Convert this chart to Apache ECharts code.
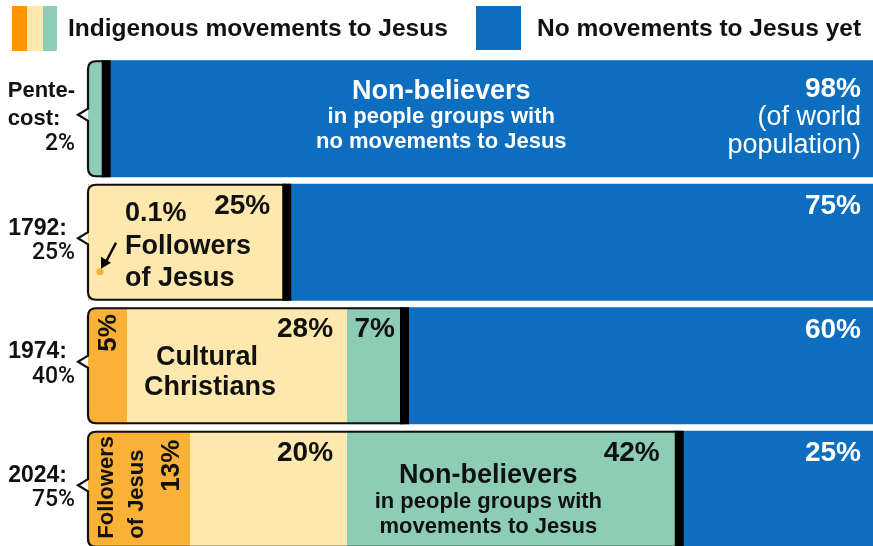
<!DOCTYPE html>
<html>
<head>
<meta charset="utf-8">
<script src="https://cdn.jsdelivr.net/npm/echarts@6/dist/echarts.min.js"></script>
<style>
html,body{margin:0;padding:0;background:#fff;}
#chart{width:873px;height:546px;}
</style>
</head>
<body>
<div id="chart"></div>
<script>
// ---- data ----
const categories = ['Pentecost', '1792', '1974', '2024'];
const followers = [0, 0.1, 5, 13];
const cultural = [0, 24.9, 28, 20];
const withMovements = [2, 0, 7, 42];
const noMovements = [98, 75, 60, 25];
const indigenousTotalLabels = ['2%', '25%', '40%', '75%'];
const yearLabels = [['Pente-', 'cost:'], ['1792:'], ['1974:'], ['2024:']];
const followersLabels = ['', '0.1%', '5%', '13%'];
const culturalLabels = ['', '25%', '28%', '20%'];
const withMovementsLabels = ['', '', '7%', '42%'];
const noMovementsLabels = ['98%', '75%', '60%', '25%'];
const legendNames = ['Indigenous movements to Jesus', 'No movements to Jesus yet'];

// ---- style ----
const FONT = '"Liberation Sans", Arial, Helvetica, sans-serif';
const C_OR = '#FBB136', C_OR_LEG = '#FF9500', C_YE = '#FEE8AD', C_GR = '#8DCDB5', C_BL = '#0D6EBF';
const BAR_H = 117;
const RADIUS = 8;

function seg(values) {
  const order = [followers, cultural, withMovements, noMovements];
  const k = order.indexOf(values);
  return values.map(function (v, i) {
    let before = 0;
    for (let j = 0; j < k; j++) before += order[j][i];
    const item = { value: v };
    if (before < 0.5 && v > 0.5) item.itemStyle = { borderRadius: [RADIUS, 0, 0, RADIUS] };
    return item;
  });
}

function txt(x, y, text, font, fill, align, vAlign, rotation) {
  return {
    type: 'text', x: x, y: y, rotation: rotation || 0,
    style: { text: text, font: font, fill: fill, align: align || 'left', verticalAlign: vAlign || 'middle' }
  };
}

const fPct = 'bold 28px ' + FONT;
const fName = 'bold 27px ' + FONT;
const fSub = 'bold 22px ' + FONT;

function renderRow(params, api) {
  const i = api.value(1);
  const cy = api.coord([0, i])[1];
  const top = cy - BAR_H / 2;
  const bot = cy + BAR_H / 2;
  const X = function (v) { return api.coord([v, i])[0]; };
  const f = followers[i], c = cultural[i], g = withMovements[i];
  const x0 = X(0), xC = X(f + c), xI = X(f + c + g), xEnd = X(100);
  const children = [];

  // outline (speech-bubble) around indigenous part
  const L = x0, T = top + 1, B = bot - 1, R = xI, r = RADIUS, ny = cy - 4;
  const d = 'M' + (L + r) + ' ' + T + ' L' + R + ' ' + T + ' L' + R + ' ' + B + ' L' + (L + r) + ' ' + B +
    ' Q' + L + ' ' + B + ' ' + L + ' ' + (B - r) + ' L' + L + ' ' + (ny + 6) + ' L' + (L - 10) + ' ' + ny +
    ' L' + L + ' ' + (ny - 6) + ' L' + L + ' ' + (T + r) + ' Q' + L + ' ' + T + ' ' + (L + r) + ' ' + T + ' Z';
  children.push({ type: 'path', shape: { pathData: d }, style: { fill: 'none', stroke: '#111', lineWidth: 2.2 } });
  // thick divider
  children.push({ type: 'rect', shape: { x: xI - 2, y: top, width: 9, height: BAR_H }, style: { fill: '#000' } });

  const W = '#ffffff', K = '#111111';
  if (i === 0) {
    children.push(txt(xEnd - 12, top + 29, noMovementsLabels[i], fPct, W, 'right'));
    children.push(txt(xEnd - 12, top + 57, '(of world', '27px ' + FONT, W, 'right'));
    children.push(txt(xEnd - 12, top + 85, 'population)', '27px ' + FONT, W, 'right'));
    const cx = X(45);
    children.push(txt(cx, top + 31, 'Non-believers', fName, W, 'center'));
    children.push(txt(cx, top + 57, 'in people groups with', fSub, W, 'center'));
    children.push(txt(cx, top + 82, 'no movements to Jesus', fSub, W, 'center'));
  } else {
    children.push(txt(xEnd - 12, top + 23, noMovementsLabels[i], fPct, W, 'right'));
  }
  if (i === 1) {
    children.push(txt(xC - 14, top + 23, culturalLabels[i], fPct, K, 'right'));
    children.push(txt(x0 + 37, top + 30, followersLabels[i], fName, K, 'left'));
    children.push(txt(x0 + 37, top + 63, 'Followers', fName, K, 'left'));
    children.push(txt(x0 + 37, top + 95, 'of Jesus', fName, K, 'left'));
    children.push({ type: 'circle', shape: { cx: x0 + 12, cy: top + 88, r: 3.6 }, style: { fill: C_OR } });
    children.push({ type: 'line', shape: { x1: x0 + 28, y1: top + 59, x2: x0 + 18, y2: top + 78 }, style: { stroke: '#000', lineWidth: 2.5 } });
    children.push({ type: 'polygon', shape: { points: [[x0 + 13, top + 85], [x0 + 13, top + 73], [x0 + 23, top + 79]] }, style: { fill: '#000' } });
  }
  if (i === 2) {
    children.push(txt(x0 + 21, top + 7, followersLabels[i], 'bold 26px ' + FONT, K, 'right', 'middle', Math.PI / 2));
    children.push(txt(x0 + 119, top + 50, 'Cultural', fName, K, 'center'));
    children.push(txt(x0 + 122, top + 80, 'Christians', fName, K, 'center'));
    children.push(txt(xC - 14, top + 22, culturalLabels[i], fPct, K, 'right'));
    children.push(txt(xI - 7, top + 22, withMovementsLabels[i], fPct, K, 'right'));
  }
  if (i === 3) {
    children.push(txt(x0 + 19, top + 108, 'Followers', 'bold 22px ' + FONT, K, 'left', 'middle', Math.PI / 2));
    children.push(txt(x0 + 49, top + 108, 'of Jesus', 'bold 22px ' + FONT, K, 'left', 'middle', Math.PI / 2));
    children.push(txt(x0 + 84, top + 9, followersLabels[i], 'bold 26px ' + FONT, K, 'right', 'middle', Math.PI / 2));
    children.push(txt(xC - 14, top + 23, culturalLabels[i], fPct, K, 'right'));
    children.push(txt(xI - 17, top + 23, withMovementsLabels[i], fPct, K, 'right'));
    const cx = X(51);
    children.push(txt(cx, top + 45, 'Non-believers', fName, K, 'center'));
    children.push(txt(cx, top + 71, 'in people groups with', fSub, K, 'center'));
    children.push(txt(cx, top + 96, 'movements to Jesus', fSub, K, 'center'));
  }
  return { type: 'group', children: children };
}

const chart = echarts.init(document.getElementById('chart'), null, { renderer: 'canvas' });
const barBase = { type: 'bar', stack: 'total', barWidth: BAR_H, silent: true, animation: false };

chart.setOption({
  animation: false,
  grid: { left: 88, right: 0, top: 57, height: 494, containLabel: false, outerBoundsMode: 'none' },
  xAxis: { type: 'value', min: 0, max: 100, show: false },
  yAxis: {
    type: 'category', data: categories, inverse: true,
    axisLine: { show: false }, axisTick: { show: false }, splitLine: { show: false },
    axisLabel: {
      margin: 13,
      formatter: function (v, i) {
        const yl = yearLabels[i];
        if (yl.length === 2) return '{a|' + yl[0] + '}\n{b|' + yl[1] + '}\n{p|' + indigenousTotalLabels[i] + '}';
        return '{y|' + yl[0] + '}\n{p|' + indigenousTotalLabels[i] + '}';
      },
      rich: {
        a: { fontFamily: FONT, fontWeight: 'bold', fontSize: 22, color: '#111', align: 'right', lineHeight: 28 },
        b: { fontFamily: FONT, fontWeight: 'bold', fontSize: 22, color: '#111', align: 'left', lineHeight: 28 },
        y: { fontFamily: FONT, fontWeight: 'bold', fontSize: 23, color: '#111', align: 'right', lineHeight: 28, padding: [0, 8, 0, 0] },
        p: { fontFamily: 'Roboto, ' + FONT, fontWeight: 500, fontSize: 23, color: '#111', align: 'right', lineHeight: 28, padding: [0, 0, 6, 0] }
      }
    }
  },
  graphic: [
    { type: 'rect', shape: { x: 12, y: 6, width: 15, height: 45 }, style: { fill: C_OR_LEG } },
    { type: 'rect', shape: { x: 27, y: 6, width: 16, height: 45 }, style: { fill: C_YE } },
    { type: 'rect', shape: { x: 43, y: 6, width: 14, height: 45 }, style: { fill: C_GR } },
    { type: 'text', x: 68, y: 29, style: { text: legendNames[0], font: 'bold 24.5px ' + FONT, fill: '#111', verticalAlign: 'middle' } },
    { type: 'rect', shape: { x: 476, y: 6, width: 45, height: 44 }, style: { fill: C_BL } },
    { type: 'text', x: 537, y: 29, style: { text: legendNames[1], font: 'bold 24.5px ' + FONT, fill: '#111', verticalAlign: 'middle' } }
  ],
  series: [
    Object.assign({ name: 'Followers of Jesus', data: seg(followers), itemStyle: { color: C_OR } }, barBase),
    Object.assign({ name: 'Cultural Christians', data: seg(cultural), itemStyle: { color: C_YE } }, barBase),
    Object.assign({ name: 'Non-believers with movements', data: seg(withMovements), itemStyle: { color: C_GR } }, barBase),
    Object.assign({ name: 'No movements yet', data: seg(noMovements), itemStyle: { color: C_BL } }, barBase),
    {
      type: 'custom', name: 'annotations', z: 5, silent: true,
      data: categories.map(function (c, i) { return [0, i]; }),
      renderItem: renderRow
    }
  ]
});
</script>
</body>
</html>
